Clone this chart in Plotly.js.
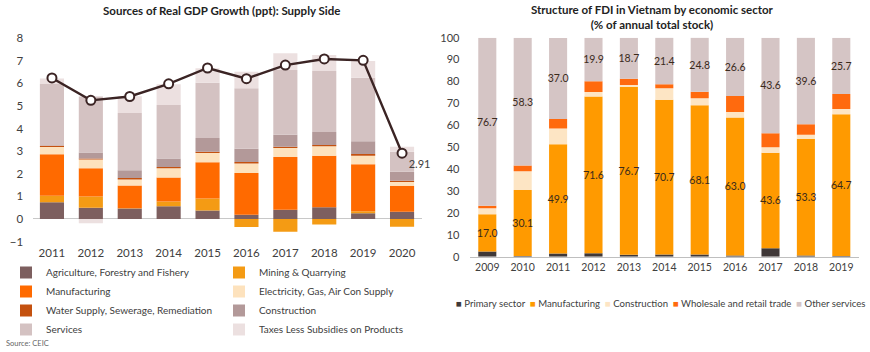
<!DOCTYPE html>
<html>
<head>
<meta charset="utf-8">
<script src="https://cdn.plot.ly/plotly-3.0.1.min.js"></script>
<style>html,body{margin:0;padding:0;background:#fff}#chart{width:870px;height:352px}</style>
</head>
<body>
<div id="chart"></div>
<script>
// ---------- Left chart: Sources of Real GDP Growth (ppt) ----------
const years1 = ['2011','2012','2013','2014','2015','2016','2017','2018','2019','2020'];
const agri     = [0.74, 0.50, 0.46, 0.56, 0.38, 0.19, 0.41, 0.52, 0.25, 0.32];
const mining   = [0.29, 0.49, 0.02, 0.21, 0.53, -0.35, -0.56, -0.24, 0.09, -0.34];
const manuf    = [1.83, 1.25, 1.00, 1.07, 1.60, 1.85, 2.33, 2.28, 2.08, 1.15];
const elec     = [0.33, 0.39, 0.27, 0.40, 0.41, 0.42, 0.40, 0.42, 0.38, 0.17];
const water    = [0.05, 0.05, 0.06, 0.06, 0.06, 0.06, 0.06, 0.05, 0.08, 0.05];
const constr   = [0.02, 0.26, 0.35, 0.38, 0.60, 0.59, 0.53, 0.58, 0.56, 0.40];
const services = [2.71, 2.48, 2.53, 2.36, 2.45, 2.67, 2.86, 2.70, 2.81, 0.89];
const taxes    = [0.25, -0.19, 0.74, 0.92, 0.64, 0.74, 0.74, 0.71, 0.74, 0.22];
const gdp      = [6.24, 5.25, 5.42, 5.98, 6.68, 6.21, 6.81, 7.08, 7.02, 2.91];

// ---------- Right chart: Structure of FDI by sector (%) ----------
const years2    = ['2009','2010','2011','2012','2013','2014','2015','2016','2017','2018','2019'];
const primary   = [2.4, 0.3, 1.5, 1.6, 0.9, 1.0, 1.0, 0.6, 3.9, 0.6, 0.3];
const fdiManuf  = [17.0, 30.1, 49.9, 71.6, 76.7, 70.7, 68.1, 63.0, 43.6, 53.3, 64.7];
const fdiConstr = [2.7, 8.6, 7.1, 2.0, 0.8, 5.2, 3.2, 2.5, 2.5, 1.8, 2.4];
const wholesale = [1.2, 2.7, 4.4, 4.9, 2.9, 1.8, 3.0, 7.3, 6.4, 4.8, 6.9];
const otherSvc  = [76.7, 58.3, 37.0, 19.9, 18.7, 21.4, 24.8, 26.6, 43.6, 39.6, 25.7];

const FONT = 'Lato, "Open Sans", sans-serif';
const TXT = '#404040';

const leftSeries = [
  {name:'Agriculture, Forestry and Fishery', y:agri, color:'#7d5f5f', legend:'legend'},
  {name:'Mining & Quarrying', y:mining, color:'#f49b14', legend:'legend2'},
  {name:'Manufacturing', y:manuf, color:'#ff6a00', legend:'legend'},
  {name:'Electricity, Gas, Air Con Supply', y:elec, color:'#fde2bd', legend:'legend2'},
  {name:'Water Supply, Sewerage, Remediation', y:water, color:'#c4510f', legend:'legend'},
  {name:'Construction', y:constr, color:'#b39999', legend:'legend2'},
  {name:'Services', y:services, color:'#d4c2c2', legend:'legend'},
  {name:'Taxes Less Subsidies on Products', y:taxes, color:'#ece0e0', legend:'legend2'}
];

const rightSeries = [
  {name:'Primary sector', y:primary, color:'#3f3838', label:false},
  {name:'Manufacturing', y:fdiManuf, color:'#ff9a00', label:true},
  {name:'Construction', y:fdiConstr, color:'#fde5c4', label:false},
  {name:'Wholesale and retail trade', y:wholesale, color:'#ff6a0e', label:false},
  {name:'Other services', y:otherSvc, color:'#d5c5c5', label:true}
];

const traces = [];
leftSeries.forEach(s => traces.push({
  type:'bar', x:years1, y:s.y, name:s.name, legend:s.legend,
  marker:{color:s.color, line:{width:0}}, width:0.62,
  xaxis:'x', yaxis:'y', hoverinfo:'skip'
}));
traces.push({
  type:'scatter', mode:'lines+markers+text', x:years1, y:gdp, showlegend:false,
  line:{color:'#3b2424', width:2.4},
  marker:{color:'#ffffff', size:9, line:{color:'#3b2424', width:2}},
  text: gdp.map((v,i)=> i===gdp.length-1 ? v.toFixed(2) : ''),
  textposition:'bottom right', textfont:{family:FONT, size:11, color:TXT},
  cliponaxis:false, xaxis:'x', yaxis:'y', hoverinfo:'skip'
});
rightSeries.forEach(s => traces.push({
  type:'bar', x:years2, y:s.y, name:s.name, showlegend:false,
  marker:{color:s.color, line:{width:0}}, width:0.51,
  text: s.label ? s.y.map(v=>v.toFixed(1)) : undefined,
  textposition: s.label ? 'inside' : 'none',
  insidetextanchor:'middle', textangle:0, constraintext:'none',
  textfont:{family:FONT, size:10.5, color:'#3a2a1c'},
  xaxis:'x2', yaxis:'y2', hoverinfo:'skip'
}));

// legend for the right chart built from series names/colours
const rightLegendText = rightSeries.map(s =>
  '<span style="color:'+s.color+'">■</span> ' + s.name).join('&nbsp;&nbsp;');

const W = 870, H = 352;
const px = v => v / W;
const py = v => 1 - v / H;

const layout = {
  width:W, height:H, margin:{l:0,r:0,t:0,b:0},
  paper_bgcolor:'#ffffff', plot_bgcolor:'rgba(0,0,0,0)',
  font:{family:FONT, color:TXT, size:11},
  barmode:'relative',
  showlegend:true,
  xaxis:{domain:[px(32.5), px(421.5)], type:'category', range:[-0.5, 9.5],
    showgrid:false, zeroline:false, showline:false, ticks:'',
    tickfont:{family:FONT, size:11.5, color:TXT}, anchor:'y', fixedrange:true},
  yaxis:{domain:[py(244.3), py(31.4)], range:[-1.12, 8.3], dtick:1,
    showgrid:false, zeroline:true, zerolinecolor:'#c8c8c8', zerolinewidth:1,
    ticks:'outside', ticklen:6, tickcolor:'rgba(0,0,0,0)',
    tickfont:{family:FONT, size:11.5, color:TXT}, anchor:'x', fixedrange:true},
  xaxis2:{domain:[px(469.6), px(859)], type:'category', range:[-0.5, 10.5],
    showgrid:false, zeroline:false, showline:true, linecolor:'#bfbfbf', linewidth:1.3,
    ticks:'', tickfont:{family:FONT, size:10.5, color:TXT}, anchor:'y2', fixedrange:true},
  yaxis2:{domain:[py(256.7), py(37.7)], range:[0, 100], dtick:10,
    showgrid:false, zeroline:false,
    ticks:'outside', ticklen:7, tickcolor:'rgba(0,0,0,0)',
    tickfont:{family:FONT, size:11, color:TXT}, anchor:'x2', fixedrange:true},
  legend:{x:px(6), y:py(258), xanchor:'left', yanchor:'top', orientation:'v',
    traceorder:'normal', font:{family:FONT, size:10, color:TXT}, bgcolor:'rgba(0,0,0,0)', itemclick:false},
  legend2:{x:px(219), y:py(258), xanchor:'left', yanchor:'top', orientation:'v',
    traceorder:'normal', font:{family:FONT, size:10, color:TXT}, bgcolor:'rgba(0,0,0,0)', itemclick:false},
  annotations:[
    {text:'<b>Sources of Real GDP Growth (ppt): Supply Side</b>', xref:'paper', yref:'paper',
     x:px(221), y:py(10), xanchor:'center', yanchor:'middle', showarrow:false,
     font:{family:FONT, size:11.5, color:'#222'}},
    {text:'<b>Structure of FDI in Vietnam by economic sector<br>(% of annual total stock)</b>', xref:'paper', yref:'paper',
     x:px(652), y:py(17), xanchor:'center', yanchor:'middle', showarrow:false,
     font:{family:FONT, size:11.5, color:'#222'}},
    {text:rightLegendText, xref:'paper', yref:'paper', x:px(660), y:py(303),
     xanchor:'center', yanchor:'middle', showarrow:false,
     font:{family:FONT, size:9.6, color:TXT}},
    {text:'Source: CEIC', xref:'paper', yref:'paper', x:px(4), y:py(343),
     xanchor:'left', yanchor:'middle', showarrow:false,
     font:{family:FONT, size:7.5, color:'#666'}}
  ]
};

Plotly.newPlot('chart', traces, layout, {displayModeBar:false, staticPlot:true});
</script>
</body>
</html>
